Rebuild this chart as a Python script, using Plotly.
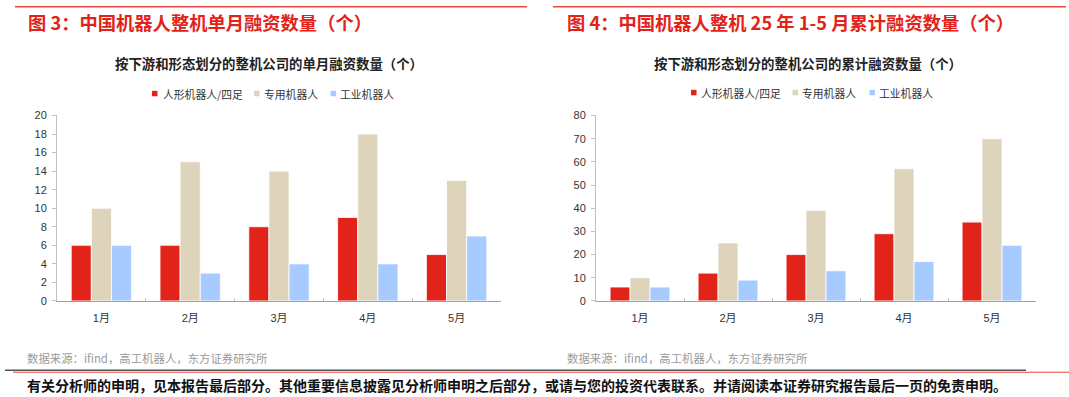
import plotly.graph_objects as go

W, H = 1069, 397

months = ["1月", "2月", "3月", "4月", "5月"]
series_names = ["人形机器人/四足", "专用机器人", "工业机器人"]
colors = ["#E2231A", "#DED4BC", "#A8CBFF"]

monthly_humanoid = [6, 6, 8, 9, 5]
monthly_special = [10, 15, 14, 18, 13]
monthly_industrial = [6, 3, 4, 4, 7]

cum_humanoid = [6, 12, 20, 29, 34]
cum_special = [10, 25, 39, 57, 70]
cum_industrial = [6, 9, 13, 17, 24]

left_title = "图 3：中国机器人整机单月融资数量（个）"
right_title = "图 4：中国机器人整机 25 年 1-5 月累计融资数量（个）"
left_sub = "按下游和形态划分的整机公司的单月融资数量（个）"
right_sub = "按下游和形态划分的整机公司的累计融资数量（个）"
source = "数据来源：ifind，高工机器人，东方证券研究所"
footer = "有关分析师的申明，见本报告最后部分。其他重要信息披露见分析师申明之后部分，或请与您的投资代表联系。并请阅读本证券研究报告最后一页的免责申明。"

CJK = "Noto Sans CJK SC"
NUM = "Liberation Sans, Arial, Noto Sans CJK SC"

# vertical correction (observed render offset/scale)
VA, VK = 5.2, 0.9726


def px(x):
    return x / W


def py(y):
    y2 = (y - VA) / VK
    return 1 - y2 / H


fig = go.Figure()

for vals, name, col in zip([monthly_humanoid, monthly_special, monthly_industrial], series_names, colors):
    fig.add_trace(go.Bar(x=months, y=vals, name=name, marker=dict(color=col, line=dict(color="white", width=0.8)),
                         xaxis="x", yaxis="y", showlegend=False))
for vals, name, col in zip([cum_humanoid, cum_special, cum_industrial], series_names, colors):
    fig.add_trace(go.Bar(x=months, y=vals, name=name, marker=dict(color=col, line=dict(color="white", width=0.8)),
                         xaxis="x2", yaxis="y2", showlegend=False))

ydom = [py(301), py(115)]
axis_common_x = dict(type="category", range=[-0.5, 4.5], showline=True, linecolor="#A0A0A0", linewidth=1,
                     ticks="inside", ticklen=3, tickcolor="#C8C8C8", tickson="boundaries",
                     tickfont=dict(family=NUM, size=11, color="#333333"), showgrid=False, zeroline=False,
                     fixedrange=True, ticklabelstandoff=7)
axis_common_y = dict(showline=True, linecolor="#C0C0C0", linewidth=1, ticks="outside", ticklen=4,
                     tickcolor="#C0C0C0", tickfont=dict(family=NUM, size=11, color="#333333"),
                     showgrid=False, zeroline=False, domain=ydom, ticklabelstandoff=3, fixedrange=True)

fig.update_layout(
    width=W, height=H,
    margin=dict(l=0, r=0, t=0, b=0),
    paper_bgcolor="white", plot_bgcolor="white",
    barmode="group", bargap=0.32, bargroupgap=0,
    xaxis=dict(domain=[px(57), px(501)], anchor="y", **axis_common_x),
    yaxis=dict(range=[0, 20], dtick=2, anchor="x", **axis_common_y),
    xaxis2=dict(domain=[px(596), px(1036)], anchor="y2", **axis_common_x),
    yaxis2=dict(range=[0, 80], dtick=10, anchor="x2", **axis_common_y),
    showlegend=False,
)

shapes = []
annotations = []

# top red lines
for x0, x1 in [(15, 527), (553, 1066)]:
    shapes.append(dict(type="line", xref="paper", yref="paper", x0=px(x0), x1=px(x1), y0=py(6), y1=py(6),
                       line=dict(color="#E8463F", width=1.5)))

# red titles
for x, t in [(26, left_title), (565, right_title)]:
    annotations.append(dict(xref="paper", yref="paper", x=px(x), y=py(21), xanchor="left", yanchor="middle",
                            text="<b>" + t + "</b>", showarrow=False,
                            font=dict(family=CJK, size=18.3, color="#E2231A")))

# chart subtitles
for xc, t in [(269, left_sub), (808, right_sub)]:
    annotations.append(dict(xref="paper", yref="paper", x=px(xc), y=py(62), xanchor="center", yanchor="middle",
                            text="<b>" + t + "</b>", showarrow=False,
                            font=dict(family=CJK, size=13.4, color="#222222")))

# legends (squares + labels)
legend_pos = [
    [(152, 161), (254, 262), (330.5, 338)],
    [(691, 699), (792.5, 800), (869.5, 876.5)],
]
for row, ly in zip(legend_pos, [93, 92]):
    for (sx, tx), name, col in zip(row, series_names, colors):
        shapes.append(dict(type="rect", xref="paper", yref="paper", x0=px(sx), x1=px(sx + 5.5),
                           y0=py(ly + 2.75), y1=py(ly - 2.75), fillcolor=col, line=dict(width=0)))
        annotations.append(dict(xref="paper", yref="paper", x=px(tx), y=py(ly), xanchor="left",
                                yanchor="middle", text=name, showarrow=False,
                                font=dict(family=CJK, size=10.8, color="#333333")))

# source lines
for x in [25, 565]:
    annotations.append(dict(xref="paper", yref="paper", x=px(x), y=py(358), xanchor="left", yanchor="middle",
                            text=source, showarrow=False, font=dict(family=CJK, size=11.4, color="#9A9A9A")))

# footer separator lines
shapes.append(dict(type="line", xref="paper", yref="paper", x0=px(5), x1=px(1026), y0=py(370.5), y1=py(370.5),
                   line=dict(color="#555555", width=1.5)))
shapes.append(dict(type="line", xref="paper", yref="paper", x0=px(13), x1=px(1069), y0=py(372.5), y1=py(372.5),
                   line=dict(color="#E8463F", width=1)))

annotations.append(dict(xref="paper", yref="paper", x=px(25), y=py(385), xanchor="left", yanchor="middle",
                        text="<b>" + footer + "</b>", showarrow=False,
                        font=dict(family=CJK, size=14, color="#111111")))

fig.update_layout(shapes=shapes, annotations=annotations)

fig.write_html("out.html", config={"displayModeBar": False},
               post_script="document.body.style.margin='0';document.body.style.overflow='hidden';")
